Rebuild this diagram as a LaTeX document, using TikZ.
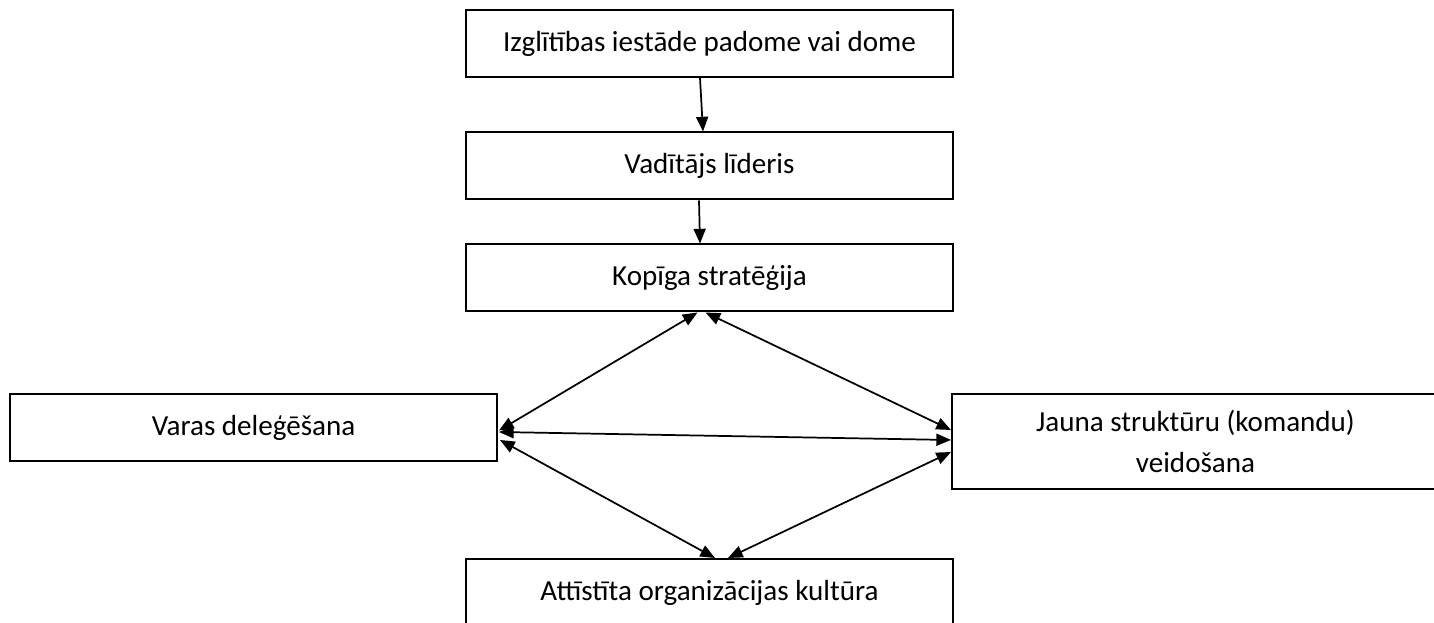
\documentclass[tikz,border=0pt]{standalone}
\usepackage{fontspec}
\setmainfont{Carlito}
\usepackage{tikz}
\usetikzlibrary{arrows.meta,positioning,calc}

\begin{document}
\begin{tikzpicture}[->,>={Triangle[length=11pt,width=9pt]},x=0.75pt,y=-0.75pt,
                line width=1.3pt,box node/.style={rectangle,draw,line width=1.5pt,
                minimum width=365.25pt,minimum height=50.25pt,inner sep=0pt,
                font=\fontsize{21.8}{30.75}\selectfont,align=center}]
            \useasboundingbox (0,0) rectangle (1434,623);
            \clip (0,0) rectangle (1434,623);
            \node[box node] (izgl) at (709.5,43.5) {Izglītības iestāde padome vai dome};
            \node[box node] (lead) at (709.5,166) {Vadītājs līderis};
            \node[box node] (strat) at (709.5,278) {Kopīga stratēģija};
            \node[box node] (deleg) at (253.5,427.5) {Varas deleģēšana};
            \node[box node,minimum height=71.25pt] (jauna) at (1195.5,441.5) {Jauna struktūru (komandu)\\veidošana};
            \node[box node] (kult) at (709.5,592.5) {Attīstīta organizācijas kultūra};
            \draw ($(izgl.south)+(-9.5,0)$) -- ($(lead.north)+(-6.5,0)$);
            \draw ($(lead.south)+(-10.5,0)$) -- ($(strat.north)+(-9.5,0)$);
            \draw[<->] ($(strat.south)+(-12,0)$) -- ($(deleg.east)+(1,3)$);
            \draw[<->] ($(strat.south)+(-4,0)$) -- ($(jauna.west)+(0,-11.5)$);
            \draw[<->] ($(deleg.east)+(1,4.5)$) -- ($(jauna.west)+(0,-1.5)$);
            \draw[<->] ($(deleg.east)+(2,12.5)$) -- ($(kult.north)+(5.5,0)$);
            \draw[<->] ($(jauna.west)+(0,10.5)$) -- ($(kult.north)+(18.5,0)$);
        \end{tikzpicture}
\end{document}
